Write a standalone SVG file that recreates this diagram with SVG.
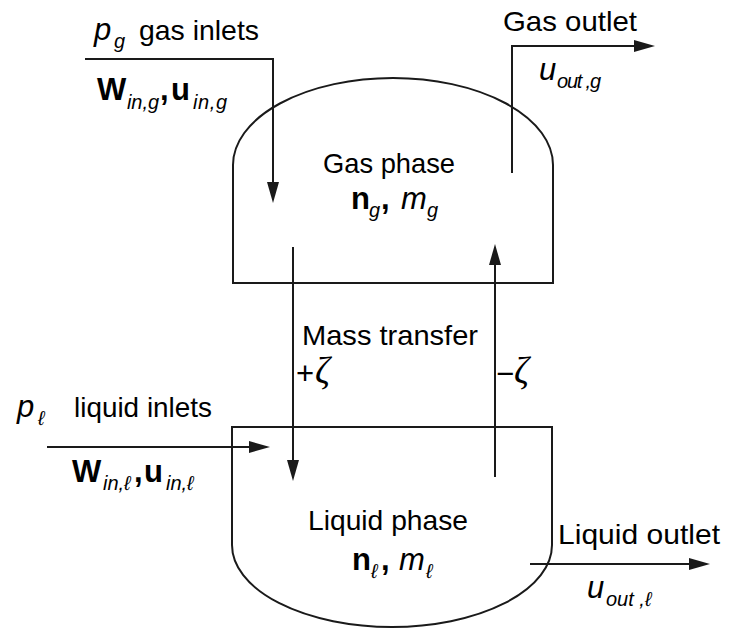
<svg xmlns="http://www.w3.org/2000/svg" width="731" height="629" viewBox="0 0 731 629">
<style>
.v{fill:none;stroke:#1a1a1a;stroke-width:2}
.c{fill:none;stroke:#1a1a1a;stroke-width:2;marker-end:url(#ah)}
text{font-family:"Liberation Sans",Arial,sans-serif;font-size:28px;fill:#000}
.i{font-style:italic;font-size:31px}
.b{font-weight:bold;font-size:31px}
.s{font-size:20px;font-style:italic}
.z{font-size:31px}
.zz{font-family:"Liberation Serif","DejaVu Serif",serif;font-size:37px;font-style:italic}
</style>
<defs>
<marker id="ah" markerUnits="userSpaceOnUse" markerWidth="22" markerHeight="12" refX="11" refY="6" orient="auto">
<path d="M0,0 L21,6 L0,12 Z" fill="#1a1a1a"/>
</marker>
</defs>
<rect width="731" height="629" fill="#fff"/>
<g id="gas-vessel">
<path class="v" d="M233 283 V165 A160 87 0 0 1 553 165 V283 Z"/>
<text x="323" y="173" textLength="132" lengthAdjust="spacingAndGlyphs">Gas phase</text>
<text><tspan class="b" x="351" y="209">n</tspan><tspan class="s" x="369" y="217">g</tspan><tspan class="b" x="381" y="209">,</tspan><tspan class="i" x="401" y="209">m</tspan><tspan class="s" x="427" y="217">g</tspan></text>
</g>
<g id="liquid-vessel">
<path class="v" d="M232 427 H552 V545 A160 82 0 0 1 232 545 Z"/>
<text x="308" y="530" textLength="160" lengthAdjust="spacingAndGlyphs">Liquid phase</text>
<text><tspan class="b" x="352" y="570">n</tspan><tspan class="s" x="371" y="578">ℓ</tspan><tspan class="b" x="381" y="570">,</tspan><tspan class="i" x="399" y="570">m</tspan><tspan class="s" x="426" y="578">ℓ</tspan></text>
</g>
<g id="gas-inlet">
<text class="i" x="94" y="40">p</text><text class="s" x="114" y="48">g</text>
<text x="139" y="40" textLength="120" lengthAdjust="spacingAndGlyphs">gas inlets</text>
<text><tspan class="b" x="97" y="100">W</tspan><tspan class="s" x="127" y="109" textLength="32">in,g</tspan><tspan class="b" x="160" y="100">,</tspan><tspan class="b" x="171" y="100">u</tspan><tspan class="s" x="193" y="109" textLength="34">in,g</tspan></text>
</g>
<g id="gas-outlet">
<text x="503" y="31" textLength="134" lengthAdjust="spacingAndGlyphs">Gas outlet</text>
<text><tspan class="i" x="539" y="80">u</tspan><tspan class="s" x="557" y="88" textLength="44">out ,g</tspan></text>
</g>
<g id="mass-transfer">
<text x="302" y="345" textLength="176" lengthAdjust="spacingAndGlyphs">Mass transfer</text>
<text class="z" x="296" y="384">+</text><text class="zz" x="315" y="383">ζ</text>
<text class="z" x="496" y="384">−</text><text class="zz" x="514" y="383">ζ</text>
</g>
<g id="liquid-inlet">
<text class="i" x="17" y="417">p</text><text class="s" x="38" y="425">ℓ</text>
<text x="74" y="417" textLength="138" lengthAdjust="spacingAndGlyphs">liquid inlets</text>
<text><tspan class="b" x="72" y="482">W</tspan><tspan class="s" x="103" y="490">in,ℓ</tspan><tspan class="b" x="134" y="482">,</tspan><tspan class="b" x="144" y="482">u</tspan><tspan class="s" x="166" y="490">in,ℓ</tspan></text>
</g>
<g id="liquid-outlet">
<text x="558" y="544" textLength="162" lengthAdjust="spacingAndGlyphs">Liquid outlet</text>
<text><tspan class="i" x="587" y="598">u</tspan><tspan class="s" x="606" y="606">out ,ℓ</tspan></text>
</g>
<g id="connectors">
<path class="c" d="M85 59 H273 V193"/>
<path class="c" d="M512 173 V46 H645"/>
<path class="c" d="M293 247 V471"/>
<path class="c" d="M495 477 V254"/>
<path class="c" d="M47 447 H260"/>
<path class="c" d="M530 564 H700"/>
</g>
</svg>
